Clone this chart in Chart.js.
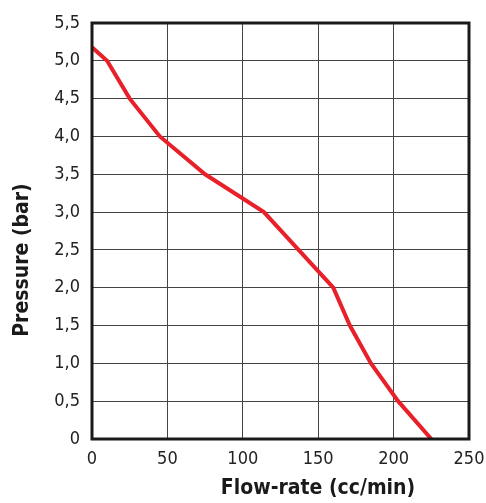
<!DOCTYPE html>
<html>
<head>
<meta charset="utf-8">
<script src="https://cdn.jsdelivr.net/npm/chart.js@4/dist/chart.umd.min.js"></script>
<style>
html,body{margin:0;padding:0;background:#fff;}
#wrap{width:486px;height:503px;}
</style>
</head>
<body>
<div id="wrap"><canvas id="c" width="486" height="503"></canvas></div>
<script>
const flowRate = [0, 10, 25, 45, 75, 114, 137, 160, 171, 185, 203, 225];
const pressure = [5.18, 5.0, 4.5, 4.0, 3.5, 3.0, 2.5, 2.0, 1.5, 1.0, 0.5, 0];
const xTitle = "Flow-rate (cc/min)";
const yTitle = "Pressure (bar)";

const points = flowRate.map((x, i) => ({x: x, y: pressure[i]}));
const tickFont = {family: "'DejaVu Sans Condensed', 'DejaVu Sans'", size: 18, weight: 'normal'};
const titleFont = "bold 21px 'DejaVu Sans Condensed', 'DejaVu Sans'";

const framePlugin = {
  id: 'frame',
  afterDraw(chart) {
    const ctx = chart.ctx, a = chart.chartArea;
    ctx.save();
    ctx.strokeStyle = '#1a1a1a';
    ctx.lineWidth = 3;
    ctx.strokeRect(a.left, a.top, a.right - a.left, a.bottom - a.top);
    ctx.fillStyle = '#1a1a1a';
    ctx.font = titleFont;
    ctx.textAlign = 'center';
    ctx.textBaseline = 'middle';
    ctx.fillText(xTitle, 318, 489);
    ctx.translate(23, 260);
    ctx.rotate(-Math.PI / 2);
    ctx.fillText(yTitle, 0, 0);
    ctx.restore();
  }
};

new Chart(document.getElementById('c'), {
  type: 'scatter',
  data: {
    datasets: [{
      data: points,
      showLine: true,
      borderColor: '#e8202a',
      backgroundColor: '#e8202a',
      borderWidth: 4,
      pointRadius: 0,
      tension: 0
    }]
  },
  options: {
    responsive: false,
    animation: false,
    layout: {padding: {left: 0, right: 17, top: 23, bottom: 0}},
    plugins: {legend: {display: false}, tooltip: {enabled: false}},
    scales: {
      x: {
        type: 'linear', min: 0, max: 250,
        afterFit(s) { s.height = 64; s.paddingLeft = 0; s.paddingRight = 0; },
        ticks: {stepSize: 50, color: '#222', font: tickFont, padding: 10},
        grid: {color: '#444', lineWidth: 1, drawTicks: false},
        border: {display: false}
      },
      y: {
        type: 'linear', min: 0, max: 5.5,
        afterFit(s) { s.width = 92; s.paddingTop = 0; s.paddingBottom = 0; },
        ticks: {
          stepSize: 0.5, color: '#222', font: tickFont, padding: 12,
          callback: v => v === 0 ? '0' : v.toFixed(1).replace('.', ',')
        },
        grid: {color: '#444', lineWidth: 1, drawTicks: false},
        border: {display: false}
      }
    }
  },
  plugins: [framePlugin]
});
</script>
</body>
</html>
